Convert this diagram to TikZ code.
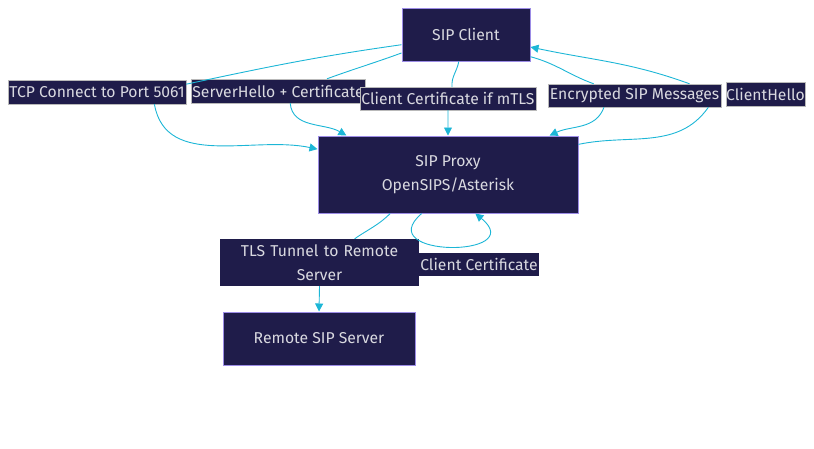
\documentclass[tikz,border=0pt]{standalone}
\usepackage{fontspec}
\setmainfont{Fira Sans}
\usepackage{xcolor}
\usepackage{tikz}
\usetikzlibrary{shapes,arrows,positioning,calc,arrows.meta}

\definecolor{boxfill}{HTML}{1F1C4A}
\definecolor{boxline}{HTML}{9C8CE6}
\definecolor{flow}{HTML}{1CB6D6}
\definecolor{txt}{HTML}{D9D9E0}

\tikzset{
  box/.style={draw=boxline, fill=boxfill, line width=1pt, rectangle, text=txt, font=\fontsize{15.7}{24.5}\selectfont, align=center, inner sep=0pt},
  lbl/.style={fill=boxfill, draw=gray!55, line width=0.4pt, rectangle, text=txt, font=\fontsize{15.7}{24}\selectfont, inner sep=0pt, align=center},
  edge/.style={draw=flow, line width=0.9pt, -{Triangle[length=8pt,width=8pt]}}
}

\begin{document}
\begin{tikzpicture}[x=1pt, y=1pt]
    \useasboundingbox (0,0) rectangle (814,-448);

    \node (client) [box, minimum width=128pt, minimum height=53pt] at (466,-34.5) {SIP Client};
    \node (proxy) [box, minimum width=260pt, minimum height=77pt] at (448,-174.5) {SIP Proxy\\OpenSIPS/Asterisk};
    \node (remote) [box, minimum width=192pt, minimum height=53pt] at (319,-338.5) {Remote SIP Server};

    % edge labels
    \node (tcp) [lbl, minimum width=178pt, minimum height=24pt] at (97,-92) {TCP Connect to Port 5061};
    \node (shello) [lbl, minimum width=174pt, minimum height=24pt] at (278,-91) {ServerHello + Certificate};
    \node (mtls) [lbl, minimum width=176pt, minimum height=23pt] at (448,-98.5) {Client Certificate if mTLS};
    \node (esm) [lbl, minimum width=173pt, minimum height=23pt] at (634.5,-95.5) {Encrypted SIP Messages};
    \node (chello) [lbl, minimum width=79pt, minimum height=24pt] at (765.5,-94) {ClientHello};
    \node (tunnel) [lbl, draw=none, minimum width=199pt, minimum height=47pt, text width=199pt] at (319.5,-262.5) {TLS Tunnel to Remote\\Server};
    \node (ccert) [lbl, draw=none, minimum width=120pt, minimum height=23pt] at (479,-264.5) {Client Certificate};

    \draw[edge] (client.189) to[out=188,in=12] (tcp.5) (tcp.-12) to[out=-80,in=168] (proxy.169);
    \draw[edge] (client.196) to[out=200,in=20] (shello.14) (shello.-45) to[out=-85,in=150] (proxy.159);
    \draw[edge] (client.255) to[out=-100,in=95] (mtls.71) (mtls.south) -- (proxy.north);
    \draw[edge] (client.-19) to[out=-15,in=160] (esm.164) (esm.201) to[out=-110,in=25] (proxy.21);
    \draw[edge] (proxy.13) to[out=12,in=-125] (esm.-9) (esm.12) to[out=160,in=-12] (client.-11);
    \draw[edge] (proxy.214) to[out=-135,in=35] (tunnel.34) (tunnel.south) -- (remote.north);
    \draw[edge] (proxy.236) .. controls (370,-258) and (530,-258) .. (proxy.-55);
\end{tikzpicture}
\end{document}
